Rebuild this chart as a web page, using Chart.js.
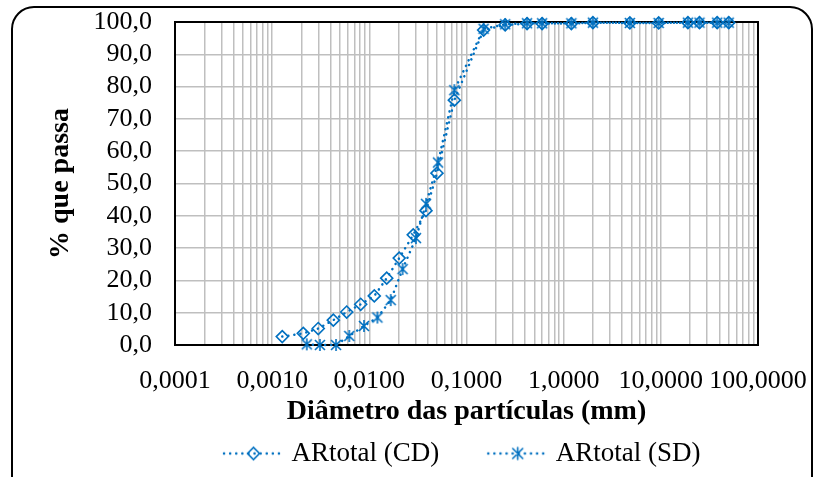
<!DOCTYPE html>
<html lang="pt">
<head>
<meta charset="utf-8">
<title>Curva granulométrica - ARtotal</title>
<script src="https://cdn.jsdelivr.net/npm/chart.js@4.4.1/dist/chart.umd.min.js"></script>
<style>
  html, body { margin: 0; padding: 0; background: #fff; }
</style>
</head>
<body>
<canvas id="granulometria" width="815" height="477"></canvas>
<script>
// Ensaio com defloculante (CD): diâmetro (mm) e % que passa
const diametroCD = [0.00127, 0.00209, 0.00298, 0.00426, 0.00585, 0.00815, 0.01125, 0.0151, 0.0203, 0.0283, 0.0383, 0.0497,
                    0.075, 0.15, 0.25, 0.42, 0.6, 1.2, 2.0, 4.8, 9.5, 19, 25, 38, 50];
const passaCD = [2.6, 3.6, 5.1, 7.7, 10.2, 12.6, 15.2, 20.7, 26.9, 34.1, 41.6, 53.2,
                 75.8, 97.5, 99.1, 99.5, 99.5, 99.5, 99.8, 99.7, 99.7, 99.8, 99.8, 99.8, 99.8];

// Ensaio sem defloculante (SD)
const diametroSD = [0.00227, 0.0031, 0.00454, 0.00622, 0.00881, 0.0121, 0.0166, 0.022, 0.0302, 0.0383, 0.0509,
                    0.075, 0.15, 0.25, 0.42, 0.6, 1.2, 2.0, 4.8, 9.5, 19, 25, 38, 50];
const passaSD = [0.2, 0.0, 0.0, 2.8, 5.9, 8.5, 13.9, 23.5, 33.1, 43.7, 56.5,
                 78.9, 97.9, 99.3, 99.6, 99.6, 99.6, 99.8, 99.7, 99.7, 99.8, 99.8, 99.8, 99.8];

// Eixos
const decadasX = [0.0001, 0.001, 0.01, 0.1, 1, 10, 100];
const rotulosX = ['0,0001', '0,0010', '0,0100', '0,1000', '1,0000', '10,0000', '100,0000'];
const ticksY = [0, 10, 20, 30, 40, 50, 60, 70, 80, 90, 100];

const AZUL = '#0070C0';
const FONTE = "'Liberation Serif', 'Times New Roman', serif";

// linhas de grade em 1..9 x cada década
const ticksX = [];
decadasX.forEach((d, i) => {
    const ultimo = i === decadasX.length - 1;
    for (let m = 1; m <= (ultimo ? 1 : 9); m++) ticksX.push(m * d);
});

function desenhaLosango(g, x, y) {
    const r = 6;
    g.beginPath();
    g.moveTo(x - r, y); g.lineTo(x, y - r); g.lineTo(x + r, y); g.lineTo(x, y + r);
    g.closePath();
    g.stroke();
}

function desenhaEstrela(g, x, y) {
    const r = 6, d = 5;
    g.beginPath();
    g.moveTo(x, y - r); g.lineTo(x, y + r);
    g.moveTo(x - d, y - d); g.lineTo(x + d, y + d);
    g.moveTo(x - d, y + d); g.lineTo(x + d, y - d);
    g.stroke();
}

// marcador estrela usado nos pontos do SD
function marcadorEstrela() {
    const c = document.createElement('canvas');
    c.width = 16; c.height = 16;
    const g = c.getContext('2d');
    g.strokeStyle = AZUL; g.lineWidth = 1.6;
    desenhaEstrela(g, 8, 8);
    return c;
}

// amostra da legenda: linha pontilhada com marcador no meio
function amostraLegenda(marcador) {
    const c = document.createElement('canvas');
    c.width = 104; c.height = 20;
    const g = c.getContext('2d');
    g.strokeStyle = AZUL;
    g.lineWidth = 2.5;
    g.lineCap = 'round';
    g.setLineDash([0.1, 6]);
    g.beginPath(); g.moveTo(44, 10); g.lineTo(103, 10); g.stroke();
    g.setLineDash([]);
    g.lineWidth = 1.6;
    marcador(g, 73.5, 10);
    return c;
}
const amostras = [amostraLegenda(desenhaLosango), amostraLegenda(desenhaEstrela)];

const fundo = {
    id: 'fundo',
    beforeDraw(chart) {
        const ctx = chart.ctx;
        ctx.save();
        ctx.fillStyle = '#fff';
        ctx.fillRect(0, 0, chart.width, chart.height);
        // moldura arredondada externa
        const x = 12, y = 7, w = 800, h = 500, r = 22;
        ctx.beginPath();
        ctx.moveTo(x + r, y);
        ctx.lineTo(x + w - r, y);
        ctx.arcTo(x + w, y, x + w, y + r, r);
        ctx.lineTo(x + w, y + h);
        ctx.lineTo(x, y + h);
        ctx.lineTo(x, y + r);
        ctx.arcTo(x, y, x + r, y, r);
        ctx.strokeStyle = '#000';
        ctx.lineWidth = 2;
        ctx.stroke();
        ctx.restore();
    }
};

const molduraPlot = {
    id: 'molduraPlot',
    beforeDatasetsDraw(chart) {
        const {ctx, chartArea: a} = chart;
        ctx.save();
        ctx.strokeStyle = '#000';
        ctx.lineWidth = 2;
        ctx.strokeRect(a.left, a.top, a.right - a.left, a.bottom - a.top);
        ctx.restore();
    }
};

const estiloSerie = {
    showLine: true,
    borderColor: AZUL,
    borderWidth: 2.5,
    borderDash: [0.1, 6],
    borderCapStyle: 'round',
    pointBorderColor: AZUL,
    pointBackgroundColor: 'rgba(0,0,0,0)',
    pointBorderWidth: 1.6,
    tension: 0,
    clip: false
};

new Chart(document.getElementById('granulometria'), {
    type: 'scatter',
    data: {
        datasets: [
            {
                ...estiloSerie,
                label: 'ARtotal (CD)',
                data: diametroCD.map((d, i) => ({ x: d, y: passaCD[i] })),
                pointStyle: 'rectRot',
                pointRadius: 6
            },
            {
                ...estiloSerie,
                label: 'ARtotal (SD)',
                data: diametroSD.map((d, i) => ({ x: d, y: passaSD[i] })),
                pointStyle: marcadorEstrela(),
                pointRadius: 6
            }
        ]
    },
    options: {
        responsive: false,
        animation: false,
        events: [],
        layout: { padding: { left: 20, right: 57, top: 22, bottom: 0 } },
        scales: {
            x: {
                type: 'logarithmic',
                min: decadasX[0],
                max: decadasX[decadasX.length - 1],
                afterBuildTicks: s => { s.ticks = ticksX.map(v => ({ value: v })); },
                afterFit: s => { s.height = 84; s.paddingLeft = 0; s.paddingRight = 0; },
                grid: { color: '#bfbfbf', lineWidth: 1.5, drawTicks: false },
                border: { display: false },
                ticks: {
                    autoSkip: false,
                    maxRotation: 0,
                    padding: 21,
                    color: '#000',
                    font: { family: FONTE, size: 26 },
                    callback: (v, i) => (i % 9 === 0 ? rotulosX[i / 9] : '')
                },
                title: {
                    display: true,
                    text: 'Diâmetro das partículas (mm)',
                    color: '#000',
                    font: { family: FONTE, size: 28, weight: 'bold' },
                    padding: 0
                }
            },
            y: {
                min: ticksY[0],
                max: ticksY[ticksY.length - 1],
                afterBuildTicks: s => { s.ticks = ticksY.map(v => ({ value: v })); },
                afterFit: s => { s.width = 155; s.paddingTop = 0; s.paddingBottom = 0; },
                grid: { color: '#bfbfbf', lineWidth: 1.5, drawTicks: false },
                border: { display: false },
                ticks: {
                    autoSkip: false,
                    padding: 23,
                    color: '#000',
                    font: { family: FONTE, size: 26 },
                    callback: v => v.toFixed(1).replace('.', ',')
                },
                title: {
                    display: true,
                    text: '% que passa',
                    color: '#000',
                    font: { family: FONTE, size: 28, weight: 'bold' },
                    padding: { top: 24, bottom: 0 }
                }
            }
        },
        plugins: {
            legend: {
                position: 'bottom',
                fullSize: false,
                align: 'start',
                labels: {
                    usePointStyle: true,
                    pointStyleWidth: 92,
                    padding: 11,
                    color: '#000',
                    font: { family: FONTE, size: 27 },
                    generateLabels: chart => Chart.defaults.plugins.legend.labels.generateLabels(chart)
                        .map((it, i) => ({ ...it, pointStyle: amostras[i] }))
                }
            },
            tooltip: { enabled: false }
        }
    },
    plugins: [fundo, molduraPlot]
});
</script>
</body>
</html>
